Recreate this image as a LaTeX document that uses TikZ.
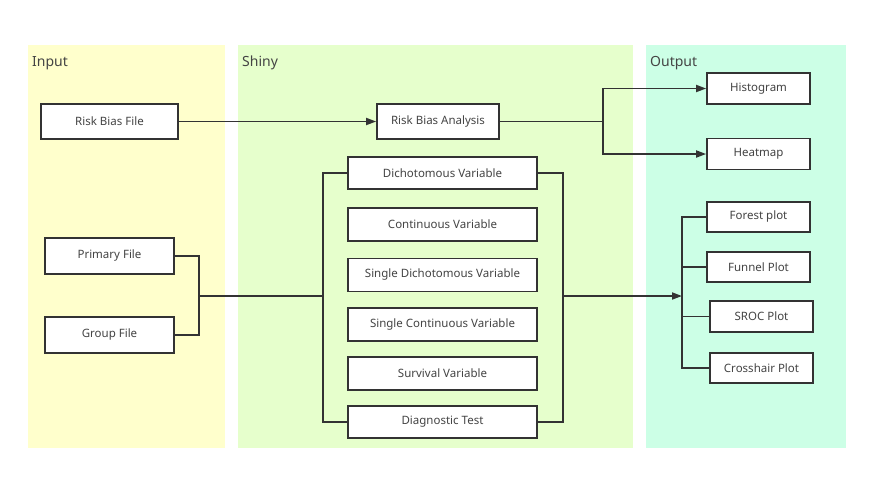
\documentclass[tikz,border=0pt]{standalone}
\usepackage{fontspec}
\setmainfont{Noto Sans}
\usetikzlibrary{arrows.meta}
\definecolor{inputbg}{HTML}{FFFFCC}
\definecolor{shinybg}{HTML}{E6FFCC}
\definecolor{outbg}{HTML}{CCFFE6}
\definecolor{ln}{HTML}{333333}
\definecolor{tx}{HTML}{444444}
\begin{document}
\begin{tikzpicture}[x=1pt,y=-1pt,
  box/.style={draw=ln, line width=1.7pt, fill=white, text=tx, inner sep=0pt,
    font=\fontsize{11.5}{13}\selectfont, minimum height=33pt},
  ptitle/.style={anchor=west, text=tx, font=\fontsize{14}{16}\selectfont, inner sep=0pt},
  conn/.style={draw=ln, line width=1.7pt},
  arr/.style={conn, -{Triangle[length=10pt,width=7pt]}}]
\useasboundingbox (0,0) rectangle (877,493);
% panels
\fill[inputbg] (28,45) rectangle (225,448);
\fill[shinybg] (238,45) rectangle (633,448);
\fill[outbg] (646,45) rectangle (846,448);
\node[ptitle] (tin) at (32,63) {Input};
\node[ptitle] (tsh) at (242,63) {Shiny};
\node[ptitle] (tout) at (650,63) {Output};
% input boxes
\node[box, minimum width=137pt, minimum height=35pt] (rbf) at (109.5,121.5) {Risk Bias File};
\node[box, minimum width=129pt, minimum height=36pt] (prim) at (109.5,256) {Primary File};
\node[box, minimum width=129pt, minimum height=36pt] (grp) at (109.5,335) {Group File};
% shiny boxes
\node[box, minimum width=122pt, minimum height=35pt] (rba) at (438,121.5) {Risk Bias Analysis};
\node[box, minimum width=189pt, minimum height=32pt] (dich) at (442.5,173) {Dichotomous Variable};
\node[box, minimum width=189pt] (cont) at (442.5,224.5) {Continuous Variable};
\node[box, minimum width=189pt] (sdich) at (442.5,275) {Single Dichotomous Variable};
\node[box, minimum width=189pt] (scont) at (442.5,324.5) {Single Continuous Variable};
\node[box, minimum width=189pt] (surv) at (442.5,373.5) {Survival Variable};
\node[box, minimum width=189pt, minimum height=32pt] (diag) at (442.5,422) {Diagnostic Test};
% output boxes
\node[box, minimum width=103pt, minimum height=31pt] (hist) at (758.5,88.5) {Histogram};
\node[box, minimum width=103pt, minimum height=31pt] (heat) at (758.5,154) {Heatmap};
\node[box, minimum width=103pt, minimum height=30pt] (forest) at (758.5,217) {Forest plot};
\node[box, minimum width=103pt, minimum height=30pt] (funnel) at (758.5,267) {Funnel Plot};
\node[box, minimum width=103pt, minimum height=31pt] (sroc) at (761.5,316.5) {SROC Plot};
\node[box, minimum width=103pt, minimum height=30pt] (cross) at (761.5,368) {Crosshair Plot};
% junctions
\coordinate (jh) at (603,121.5);
\coordinate (j1) at (199,296);
\coordinate (jl) at (323,296);
\coordinate (jr) at (563,296);
\coordinate (jo) at (682,296);
% connectors
\draw[arr] (rbf.east) -- (rba.west);
\draw[conn] (rba.east) -- (jh);
\draw[arr] (jh) |- (hist.west);
\draw[arr] (jh) |- (heat.west);
\draw[conn] (prim.east) -| (j1) |- (grp.east);
\draw[conn] (j1) -- (jl);
\draw[conn] (dich.west) -| (jl) |- (diag.west);
\draw[conn] (dich.east) -| (jr) |- (diag.east);
\draw[arr] (jr) -- (jo);
\draw[conn] (forest.west) -| (jo) |- (cross.west);
\draw[conn] (funnel.west) -- (funnel.west -| jo);
\draw[conn] (sroc.west) -- (sroc.west -| jo);
\end{tikzpicture}
\end{document}
